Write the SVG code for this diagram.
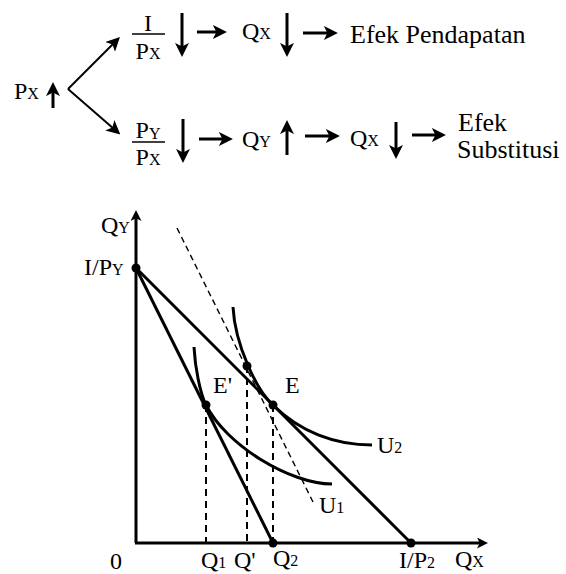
<svg xmlns="http://www.w3.org/2000/svg" width="566" height="574" viewBox="0 0 566 574" font-family="'Liberation Serif', 'Times New Roman', 'DejaVu Serif', serif">
<style>
text{font-family:'Liberation Serif','Times New Roman','DejaVu Serif',serif;fill:#000}
.m{font-size:24px}
.w{font-size:26px}
.c{font-size:24px}
.s{font-size:16px}
.arr{stroke:#000;stroke-width:3;fill:none}
.thin{stroke:#000;stroke-width:2;fill:none}
.ln{stroke:#000;stroke-width:3;fill:none}
.dash{stroke:#000;stroke-width:2;fill:none;stroke-dasharray:7,5}
.dash2{stroke:#000;stroke-width:1.4;fill:none;stroke-dasharray:6,4}
.dot{fill:#000}
</style>
<defs>
<marker id="ah" viewBox="0 0 10 10" refX="4" refY="5" markerWidth="14" markerHeight="14" markerUnits="userSpaceOnUse" orient="auto">
<path d="M0,0 L10,5 L0,10 L2.5,5 z" fill="#000"/>
</marker>
<marker id="ax" viewBox="0 0 10 10" refX="4" refY="5" markerWidth="11" markerHeight="11" markerUnits="userSpaceOnUse" orient="auto">
<path d="M0,0 L10,5 L0,10 L2.5,5 z" fill="#000"/>
</marker>
</defs>

<g id="top-flow">
<g id="px-up">
<text class="m" x="14" y="99">P<tspan class="s">X</tspan></text>
<line class="arr" x1="53" y1="108" x2="53" y2="90.5" marker-end="url(#ah)"/>
</g>
<g id="frac-income">
<text class="m" x="148" y="31" text-anchor="middle">I</text>
<line x1="132" y1="34" x2="165" y2="34" stroke="#000" stroke-width="1.6"/>
<text class="m" x="148" y="59" text-anchor="middle">P<tspan class="s">X</tspan></text>
<line class="arr" x1="182" y1="13" x2="182" y2="48.5" marker-end="url(#ah)"/>
</g>
<g id="qx-top">
<text class="m" x="242" y="39">Q<tspan class="s">X</tspan></text>
<line class="arr" x1="287" y1="13" x2="287" y2="48.5" marker-end="url(#ah)"/>
</g>
<g id="efek-pendapatan">
<text class="w" x="350" y="43">Efek Pendapatan</text>
</g>
<g id="frac-price">
<text class="m" x="148" y="138" text-anchor="middle">P<tspan class="s" dy="1">Y</tspan></text>
<line x1="132" y1="142" x2="165" y2="142" stroke="#000" stroke-width="1.6"/>
<text class="m" x="148" y="165" text-anchor="middle">P<tspan class="s">X</tspan></text>
<line class="arr" x1="183" y1="119" x2="183" y2="154.5" marker-end="url(#ah)"/>
</g>
<g id="qy-mid">
<text class="m" x="242" y="147">Q<tspan class="s">Y</tspan></text>
<line class="arr" x1="287" y1="155" x2="287" y2="128.5" marker-end="url(#ah)"/>
</g>
<g id="qx-mid">
<text class="m" x="350" y="146">Q<tspan class="s">X</tspan></text>
<line class="arr" x1="396" y1="122" x2="396" y2="150.5" marker-end="url(#ah)"/>
</g>
<g id="efek-substitusi">
<text class="w" x="458" y="131">Efek</text>
<text class="w" x="457" y="158">Substitusi</text>
</g>
</g>

<g id="flow-connectors">
<line class="thin" x1="68" y1="89" x2="114" y2="43" marker-end="url(#ah)"/>
<line class="thin" x1="68" y1="89" x2="114" y2="129" marker-end="url(#ah)"/>
<line class="arr" x1="197" y1="32" x2="218.5" y2="32" marker-end="url(#ah)"/>
<line class="arr" x1="303" y1="33" x2="329.5" y2="33" marker-end="url(#ah)"/>
<line class="arr" x1="199" y1="139" x2="224.5" y2="139" marker-end="url(#ah)"/>
<line class="arr" x1="305" y1="136" x2="331.5" y2="136" marker-end="url(#ah)"/>
<line class="arr" x1="412" y1="135" x2="437.5" y2="135" marker-end="url(#ah)"/>
</g>

<g id="chart">
<g id="axes">
<line class="ln" x1="136" y1="543" x2="136" y2="216.6" marker-end="url(#ax)"/>
<line class="ln" x1="135" y1="543" x2="481.4" y2="543" marker-end="url(#ax)"/>
<text class="c" x="101" y="233">Q<tspan class="s">Y</tspan></text>
<text class="c" x="84" y="275">I/P<tspan class="s">Y</tspan></text>
<text class="c" x="110" y="569">0</text>
<text class="c" x="455" y="567">Q<tspan class="s">X</tspan></text>
</g>
<g id="budget-lines">
<line class="ln" x1="136" y1="268" x2="411" y2="543"/>
<line class="ln" x1="136" y1="268" x2="273" y2="543"/>
<line class="dash2" x1="177" y1="228" x2="313" y2="502"/>
</g>
<g id="U2">
<path class="ln" d="M233,307 C235,345 257,391 273,405 C300,432 335,445 372,445"/>
<text class="c" x="377" y="453">U<tspan class="s">2</tspan></text>
</g>
<g id="U1">
<path class="ln" d="M194,347 C195,367 200,393 206,405 C226,445 290,484 332,484"/>
<text class="c" x="319" y="513">U<tspan class="s">1</tspan></text>
</g>
<g id="drop-lines">
<line class="dash" x1="206" y1="405" x2="206" y2="543"/>
<line class="dash" x1="247" y1="366" x2="247" y2="543"/>
<line class="dash" x1="273" y1="405" x2="273" y2="543"/>
</g>
<g id="points">
<circle class="dot" cx="136" cy="268" r="4.5"/>
<circle class="dot" cx="411" cy="543" r="4.5"/>
<circle class="dot" cx="273" cy="543" r="4.5"/>
<circle class="dot" cx="206" cy="405" r="4.5"/>
<circle class="dot" cx="273" cy="405" r="4.5"/>
<circle class="dot" cx="247" cy="366" r="4.5"/>
</g>
<g id="labels">
<text class="c" x="213" y="393">E'</text>
<text class="c" x="285" y="393">E</text>
<text class="c" x="201" y="568">Q<tspan class="s">1</tspan></text>
<text class="c" x="234" y="568">Q'</text>
<text class="c" x="273" y="566">Q<tspan class="s">2</tspan></text>
<text class="c" x="399" y="568">I/P<tspan class="s">2</tspan></text>
</g>
</g>
</svg>
